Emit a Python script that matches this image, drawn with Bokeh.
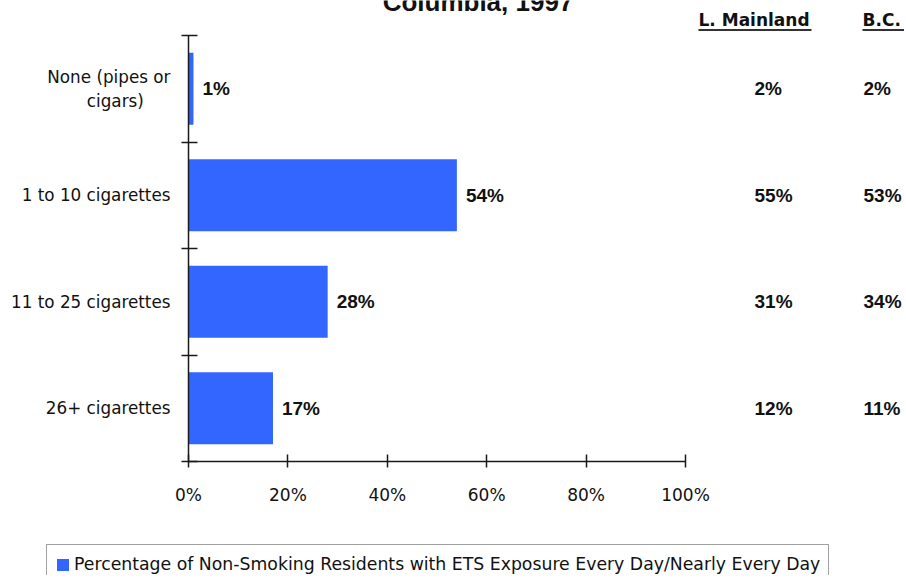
from bokeh.plotting import figure
from bokeh.models import (FixedTicker, PrintfTickFormatter, Legend, LegendItem,
                          ColumnDataSource, Label)
from bokeh.core.properties import value
from bokeh.embed import file_html
from bokeh.resources import INLINE

# ---------------- data ----------------
title_text = "Columbia, 1997"
categories = ["None (pipes or\ncigars)", "1 to 10 cigarettes", "11 to 25 cigarettes", "26+ cigarettes"]
pct_region = [1, 54, 28, 17]
pct_mainland = [2, 55, 31, 12]
pct_bc = [2, 53, 34, 11]
col_headers = ["L. Mainland", "B.C."]
x_ticks = [0, 20, 40, 60, 80, 100]
series_name = "Percentage of Non-Smoking Residents with ETS Exposure Every Day/Nearly Every Day"

# ---------------- layout constants ----------------
W, H = 904, 575
LEFT = 188          # pixel column of the value axis origin
AXIS_Y = 461        # pixel row of the category axis bottom
TOP_BOUND = 35      # pixel row of the top category boundary
px_per_x = 4.97
n = len(categories)
px_per_y = (AXIS_Y - TOP_BOUND) / n

ypos = [n - 1 - i for i in range(n)]
bounds = [k - 0.5 for k in range(n + 1)]
x_start = -LEFT / px_per_x
x_end = (W - LEFT) / px_per_x
y_end = bounds[-1] + TOP_BOUND / px_per_y
y_start = bounds[0] - (H - AXIS_Y) / px_per_y

def y_at(pix):
    return bounds[-1] + (TOP_BOUND - pix) / px_per_y

def x_at(pix):
    return (pix - LEFT) / px_per_x

def centre_lines(label):
    # right-aligned axis labels: pad short lines so that each line looks centred
    lines = label.split("\n")
    longest = max(len(s) for s in lines)
    return "\n".join(s + "\u00a0" * int(round((longest - len(s)) * 0.75)) for s in lines)

BLUE = "#3366FF"
AX = "#1a1a1a"

p = figure(width=W, height=H, x_range=(x_start, x_end), y_range=(y_start, y_end),
           output_backend="svg", toolbar_location=None,
           min_border_left=0, min_border_right=0, min_border_top=0,
           min_border_bottom=0)
p.outline_line_color = None
p.xgrid.visible = False
p.ygrid.visible = False
p.background_fill_color = "white"
p.border_fill_color = "white"

src = ColumnDataSource(dict(
    y=ypos, v=pct_region,
    lab=[f"{v}%" for v in pct_region],
    ml=[f"{v}%" for v in pct_mainland],
    bc=[f"{v}%" for v in pct_bc],
))

bars = p.hbar(y="y", left=0, right="v", height=0.676, source=src,
              fill_color=BLUE, line_color=None)

num_style = dict(text_font=value("Liberation Sans"), text_font_style="bold",
                 text_font_size="19px", text_color="#111111",
                 text_baseline="middle", text_align="left")
p.text(x="v", y="y", text="lab", x_offset=9, source=src, **num_style)
p.text(x=x_at(754), y="y", text="ml", source=src, **num_style)
p.text(x=x_at(863), y="y", text="bc", source=src, **num_style)

# column headers with underline
hx = [x_at(698), x_at(862)]
hw = [113 / px_per_x, 42 / px_per_x]
hsrc = ColumnDataSource(dict(x=hx, x1=[a + b for a, b in zip(hx, hw)],
                             y=[y_at(19)] * 2, yu=[y_at(29.5)] * 2, t=col_headers))
p.text(x="x", y="y", text="t", source=hsrc, text_font=value("DejaVu Sans"),
       text_font_style="bold", text_font_size="17px", text_color="#111111",
       text_baseline="middle", text_align="left")
p.segment(x0="x", x1="x1", y0="yu", y1="yu", source=hsrc, line_color="#333333", line_width=2)

# title (only its lower part is inside the picture, as in the reference)
p.add_layout(Label(x=x_at(477.5), y=y_at(1), text=title_text, text_align="center",
                   text_baseline="middle", text_font="Liberation Sans",
                   text_font_style="bold", text_font_size="26px", text_color="#111111"))

# y axis: category labels at centres, tick marks at category boundaries
ya = p.yaxis[0]
ya.fixed_location = 0
ya.ticker = FixedTicker(ticks=ypos, minor_ticks=bounds)
ya.major_label_overrides = {y: centre_lines(c) for y, c in zip(ypos, categories)}
ya.major_tick_line_color = None
ya.major_tick_in = 0
ya.major_tick_out = 0
ya.minor_tick_in = 9
ya.minor_tick_out = 7
ya.minor_tick_line_color = AX
ya.minor_tick_line_width = 1.5
ya.bounds = (bounds[0], bounds[-1])
ya.axis_line_color = AX
ya.axis_line_width = 1.5
ya.major_label_text_font = "DejaVu Sans"
ya.major_label_text_font_size = "16.8px"
ya.major_label_text_color = "#111111"
ya.major_label_standoff = 11

xa = p.xaxis[0]
xa.fixed_location = bounds[0]
xa.ticker = FixedTicker(ticks=x_ticks, minor_ticks=[])
xa.formatter = PrintfTickFormatter(format="%d%%")
xa.bounds = (x_ticks[0], x_ticks[-1])
xa.major_tick_in = 7
xa.major_tick_out = 6
xa.major_tick_line_color = AX
xa.major_tick_line_width = 1.5
xa.minor_tick_line_color = None
xa.axis_line_color = AX
xa.axis_line_width = 1.5
xa.major_label_text_font = "DejaVu Sans"
xa.major_label_text_font_size = "17px"
xa.major_label_text_color = "#111111"
xa.major_label_standoff = 17

legend = Legend(items=[LegendItem(label=series_name, renderers=[bars])],
                location=(46, H - 544 - 40),
                orientation="horizontal", padding=8, margin=0,
                glyph_width=15, glyph_height=15, label_standoff=4, label_height=22,
                label_text_font="DejaVu Sans", label_text_font_size="17.3px",
                label_text_color="#111111",
                border_line_color="#444444", border_line_width=1,
                background_fill_color="white", background_fill_alpha=1)
p.add_layout(legend)

open("out.html", "w").write(file_html(p, INLINE))
